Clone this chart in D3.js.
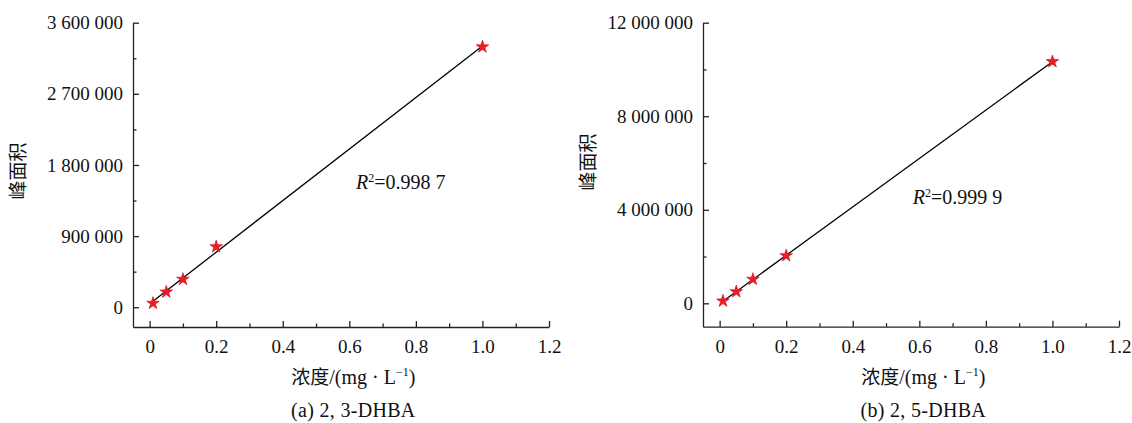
<!DOCTYPE html>
<html>

<head>
    <meta charset="UTF-8">
    <title>Calibration Curves</title>
    <script src="https://cdn.jsdelivr.net/npm/d3@7"></script>
    <style>
        body { margin: 0; background: #fff; }
        text { font-family: "Liberation Serif", "Times New Roman", serif; fill: #111; }
        text.cjk, tspan.cjk { font-family: "Noto Sans CJK SC", sans-serif; }
    </style>
</head>

<body>
    <script>
        // concentration (mg/L) and peak areas
        const conc = [0.01, 0.05, 0.1, 0.2, 1.0];
        const areaA = [50000, 193000, 354000, 766000, 3294000];
        const areaB = [98000, 496000, 1027000, 2036000, 10336000];

        const xTicks = [0, 0.2, 0.4, 0.6, 0.8, 1.0, 1.2];
        const xMinor = [0.1, 0.3, 0.5, 0.7, 0.9, 1.1];
        const yTicksA = [0, 900000, 1800000, 2700000, 3600000];
        const yMinorA = [450000, 1350000, 2250000, 3150000];
        const yTicksB = [0, 4000000, 8000000, 12000000];
        const yMinorB = [2000000, 6000000, 10000000];

        const r2Text = ["0.998 7", "0.999 9"];
        const captions = ["(a) 2, 3-DHBA", "(b) 2, 5-DHBA"];

        const width = 1132;
        const height = 423;

        const svg = d3.select('body')
            .append('svg')
            .attr('width', width)
            .attr('height', height);

        const locale = d3.formatLocale({ decimal: '.', thousands: ' ', grouping: [3], currency: ['', ''] });
        const fmtY = locale.format(',d');
        const fmtX = d => d === 0 ? '0' : d3.format('.1f')(d);

        const panels = [
            {
                values: areaA, yTicks: yTicksA, yMinor: yMinorA, yDomain: [-250000, 3600000],
                left: 133, right: 549, top: 22.7, bottom: 327, titleY: 171,
                r2: r2Text[0], r2At: [0.62, 1500000], caption: captions[0]
            },
            {
                values: areaB, yTicks: yTicksB, yMinor: yMinorB, yDomain: [-1000000, 12000000],
                left: 703, right: 1119, top: 22.7, bottom: 326.7, titleY: 162,
                r2: r2Text[1], r2At: [0.58, 4250000], caption: captions[1]
            }
        ];

        function drawPanel(p) {
            const x = d3.scaleLinear().domain([-0.05, 1.2]).range([p.left, p.right]);
            const y = d3.scaleLinear().domain(p.yDomain).range([p.bottom, p.top]);
            const g = svg.append('g');

            // x axis, inward ticks
            g.append('g')
                .attr('transform', `translate(0,${p.bottom})`)
                .call(d3.axisBottom(x).tickValues(xTicks).tickFormat(fmtX)
                    .tickSizeInner(-6).tickSizeOuter(0).tickPadding(13));
            g.append('g')
                .attr('transform', `translate(0,${p.bottom})`)
                .call(d3.axisBottom(x).tickValues(xMinor).tickFormat('')
                    .tickSizeInner(-3.5).tickSizeOuter(0))
                .select('.domain').remove();

            // y axis, inward ticks
            g.append('g')
                .attr('transform', `translate(${p.left},0)`)
                .call(d3.axisLeft(y).tickValues(p.yTicks).tickFormat(fmtY)
                    .tickSizeInner(-6).tickSizeOuter(0).tickPadding(10));
            g.append('g')
                .attr('transform', `translate(${p.left},0)`)
                .call(d3.axisLeft(y).tickValues(p.yMinor).tickFormat('')
                    .tickSizeInner(-3.5).tickSizeOuter(0))
                .select('.domain').remove();

            g.selectAll('.domain, .tick line').attr('stroke', '#222').attr('stroke-width', 1.3);
            g.selectAll('.tick text')
                .style('font-family', '"Liberation Serif", serif')
                .style('font-size', '19px')
                .style('fill', '#111');

            // least squares fit line
            const mx = d3.mean(conc);
            const my = d3.mean(p.values);
            const sxy = d3.sum(conc, (c, i) => (c - mx) * (p.values[i] - my));
            const sxx = d3.sum(conc, c => (c - mx) ** 2);
            const slope = sxy / sxx;
            const icpt = my - slope * mx;
            g.append('path')
                .datum(d3.extent(conc))
                .attr('fill', 'none')
                .attr('stroke', '#000')
                .attr('stroke-width', 1.3)
                .attr('d', d3.line().x(d => x(d)).y(d => y(icpt + slope * d)));

            // star markers
            g.selectAll('path.pt')
                .data(conc)
                .join('path')
                .attr('class', 'pt')
                .attr('transform', (d, i) => `translate(${x(d)},${y(p.values[i])})`)
                .attr('d', d3.symbol(d3.symbolStar, 50))
                .attr('fill', '#ee1c25')
                .attr('stroke', '#c8101a')
                .attr('stroke-width', 0.6);

            // R^2 label
            const r2 = g.append('text')
                .attr('x', x(p.r2At[0]))
                .attr('y', y(p.r2At[1]))
                .style('font-size', '20px');
            r2.append('tspan').attr('font-style', 'italic').text('R');
            r2.append('tspan').style('font-size', '12px').attr('dy', -7).text('2');
            r2.append('tspan').attr('dy', 7).text('=' + p.r2);

            // axis titles
            const cx = (x(0) + p.right) / 2 + 4;
            const xt = g.append('text')
                .attr('x', cx)
                .attr('y', p.bottom + 57)
                .attr('text-anchor', 'middle')
                .style('font-size', '20px');
            xt.append('tspan').attr('class', 'cjk').style('font-size', '19px').text('浓度');
            xt.append('tspan').text('/(mg · L');
            xt.append('tspan').style('font-size', '12px').attr('dy', -8).text('−1');
            xt.append('tspan').attr('dy', 8).text(')');

            g.append('text')
                .attr('class', 'cjk')
                .attr('transform', `translate(${p.left - 108},${p.titleY}) rotate(-90)`)
                .attr('text-anchor', 'middle')
                .style('font-size', '19px')
                .text('峰面积');

            g.append('text')
                .attr('x', cx)
                .attr('y', p.bottom + 90)
                .attr('text-anchor', 'middle')
                .style('font-size', '20px')
                .style('letter-spacing', '0.3px')
                .text(p.caption);
        }

        panels.forEach(drawPanel);
    </script>
</body>

</html>
